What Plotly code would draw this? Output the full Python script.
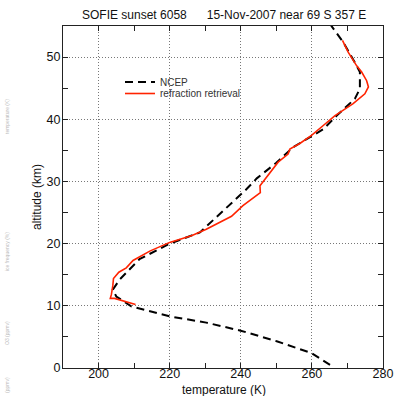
import plotly.graph_objects as go

# NCEP profile
ncep_T = [265.1, 259.9, 250.1, 240.0, 230.3, 220.0, 209.2, 205.0, 204.0, 205.9,
          211.5, 220.0, 228.5, 233.0, 238.0, 241.5, 244.5, 250.0, 254.7, 259.4,
          263.2, 267.0, 272.1, 273.5, 273.5, 272.6, 268.8, 265.0]
ncep_z = [0.5, 2.4, 4.3, 6.0, 7.3, 8.3, 9.9, 11.5, 12.6, 14.2,
          17.5, 20.0, 21.8, 24.2, 26.8, 28.7, 30.5, 33.0, 35.5, 37.1,
          38.4, 40.6, 43.3, 44.9, 47.6, 48.6, 52.4, 55.4]

# refraction retrieval profile
ret_T = [210.4, 204.5, 203.3, 203.6, 204.0, 204.2, 205.7, 207.8, 209.7, 214.4,
         220.0, 226.3, 230.3, 237.4, 240.6, 245.5, 245.4, 246.8, 250.5, 253.3,
         253.8, 256.6, 259.9, 263.2, 266.5, 271.6, 274.9, 275.9, 275.4, 274.0,
         272.6, 270.2, 268.6]
ret_z = [10.2, 11.2, 11.2, 11.8, 13.2, 14.4, 15.4, 16.1, 17.3, 18.8,
         20.2, 21.3, 22.3, 24.4, 26.1, 28.2, 29.3, 30.4, 33.1, 34.4,
         35.2, 36.1, 37.4, 39.0, 40.6, 42.5, 44.1, 45.2, 46.2, 47.6,
         48.6, 50.8, 52.7]

title_text = "SOFIE sunset 6058      15-Nov-2007 near 69 S 357 E"
side_labels = [("temperature (K)", 117), ("ice frequency (%)", 252), ("O3 (ppmv)", 333), ("(ppmv)", 385)]

font_family = "Liberation Sans, Arial, Helvetica, sans-serif"

L, R, T, B = 63, 19, 26, 28
W, H = 402, 396
pw, ph = W - L - R, H - T - B


def px(xp):
    return (xp - L) / pw


def py(yp):
    return (H - B - yp) / ph


fig = go.Figure()
fig.add_trace(go.Scatter(x=ncep_T, y=ncep_z, mode="lines", name="NCEP", legend="legend",
                         line=dict(color="black", width=2, dash="8px,5px")))
fig.add_trace(go.Scatter(x=ret_T, y=ret_z, mode="lines", name="refraction retrieval", legend="legend2",
                         line=dict(color="rgb(255,35,0)", width=1.6)))

axis_common = dict(
    showline=True, linecolor="#222", linewidth=1, mirror="allticks",
    ticks="inside", ticklen=5, tickcolor="#222",
    showgrid=True, gridcolor="#777", griddash="1px,2px", gridwidth=1,
    zeroline=False, automargin=False,
    tickfont=dict(size=12.5, color="#111", family=font_family),
)

legend_common = dict(xanchor="left", yanchor="top", bgcolor="rgba(0,0,0,0)",
                     font=dict(size=10, color="#333", family=font_family),
                     tracegroupgap=0, itemwidth=30)

fig.update_layout(
    width=W, height=H,
    margin=dict(l=L, r=R, t=T, b=B),
    paper_bgcolor="white", plot_bgcolor="white",
    font=dict(family=font_family, size=12, color="#111"),
    showlegend=True,
    legend=dict(x=px(120), y=py(67.5), **legend_common),
    legend2=dict(x=px(120), y=py(79), **legend_common),
    xaxis=dict(range=[190, 280], tick0=200, dtick=20, ticklabelstandoff=-6,
               minor=dict(dtick=10, tick0=190, ticks="inside", ticklen=5, tickcolor="#222", showgrid=False),
               **axis_common),
    yaxis=dict(range=[0, 55], tick0=0, dtick=10, ticklabelstandoff=-1,
               minor=dict(dtick=5, ticks="inside", ticklen=5, tickcolor="#222", showgrid=False),
               **axis_common),
)

ann_common = dict(xref="paper", yref="paper", showarrow=False, xanchor="center", yanchor="middle")

# title and axis titles
fig.add_annotation(text=title_text, x=px(224), y=py(15),
                   font=dict(size=12, color="#111", family=font_family), **ann_common)
fig.add_annotation(text="temperature (K)", x=px(224), y=py(390),
                   font=dict(size=12, color="#111", family=font_family), **ann_common)
fig.add_annotation(text="altitude (km)", x=px(37), y=py(197), textangle=-90,
                   font=dict(size=12, color="#111", family=font_family), **ann_common)

for txt, ypix in side_labels:
    fig.add_annotation(text=txt, x=px(7), y=py(ypix), textangle=-90,
                       font=dict(size=5, color="#bbb", family=font_family), **ann_common)

fig.write_html("out.html")
